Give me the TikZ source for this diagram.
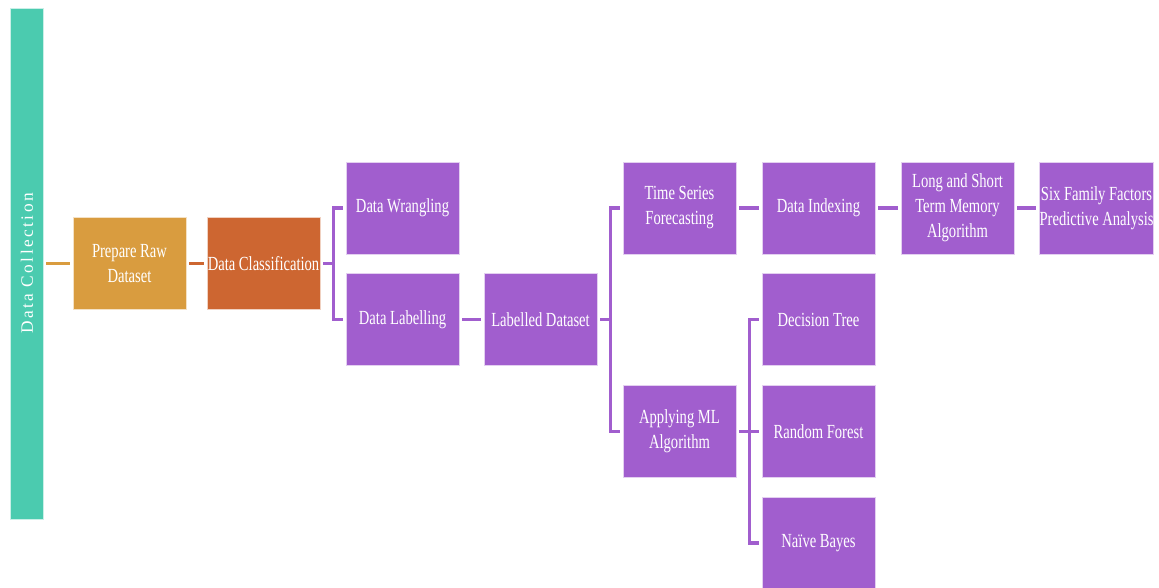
\documentclass[tikz,border=0pt]{standalone}
\usepackage{fontspec}
\setmainfont{Liberation Serif}
\newfontfamily\condfont[FakeStretch=0.73]{Liberation Serif}
\newfontfamily\spacedfont[LetterSpace=14]{Liberation Serif}
\definecolor{purp}{HTML}{A15ECE}
\definecolor{teal}{HTML}{4BCBAF}
\definecolor{gold}{HTML}{D99C3F}
\definecolor{rust}{HTML}{CD6631}
\tikzset{
  box/.style={minimum width=84.75pt, minimum height=69pt, inner sep=0pt,
    align=center, text=white, draw=white!70!#1, line width=0.6pt, fill=#1,
    font=\condfont\fontsize{15pt}{18.75pt}\selectfont},
  link/.style={line width=2.3pt, draw=#1, shorten <=2.25pt, shorten >=2.25pt},
}
\begin{document}
\begin{tikzpicture}[x=0.75pt, y=-0.75pt]
\useasboundingbox (0,0) rectangle (1159,587);
\fill[white] (0,0) rectangle (1159,587);
% side bar
\node[fill=teal, draw=white!70!teal, line width=0.6pt, minimum width=24.75pt, minimum height=383.25pt, inner sep=0pt] (bar) at (26.5,263.5) {};
\node[rotate=90, text=white, font=\spacedfont\fontsize{13pt}{15pt}\selectfont] (bartxt) at (27,263.5) {Data Collection};
% boxes
\node[box=gold] (prep) at (129.5,263.5) {Prepare Raw\\Dataset};
\node[box=rust] (class) at (263.5,263.5) {Data Classification};
\node[box=purp] (wrang) at (402.5,208) {Data Wrangling};
\node[box=purp] (label) at (402.5,319.5) {Data Labelling};
\node[box=purp] (ld) at (540.5,319.5) {Labelled Dataset};
\node[box=purp] (ts) at (679.5,208) {Time Series\\Forecasting};
\node[box=purp] (ml) at (679.5,431.5) {Applying ML\\Algorithm};
\node[box=purp] (di) at (818.5,208) {Data Indexing};
\node[box=purp] (dt) at (818.5,319.5) {Decision Tree};
\node[box=purp] (rf) at (818.5,431.5) {Random Forest};
\node[box=purp] (nb) at (818.5,543) {Naïve Bayes};
\node[box=purp] (lstm) at (957.5,208) {Long and Short\\Term Memory\\Algorithm};
\node[box=purp] (six) at (1096.5,208) {Six Family Factors\\Predictive Analysis};
% connectors
\draw[link=gold] (bar.east) -- (prep.west);
\draw[link=rust] (prep.east) -- (class.west);
\draw[link=purp, shorten >=0pt] (class.east) -- ++(13,0) coordinate (b1);
\draw[link=purp, shorten <=0pt] (b1) |- (wrang.west);
\draw[link=purp, shorten <=0pt] (b1) |- (label.west);
\draw[link=purp] (label.east) -- (ld.west);
\draw[link=purp, shorten >=0pt] (ld.east) -- ++(13,0) coordinate (b2);
\draw[link=purp, shorten <=0pt] (b2) |- (ts.west);
\draw[link=purp, shorten <=0pt] (b2) |- (ml.west);
\draw[link=purp] (ts.east) -- (di.west);
\draw[link=purp, shorten >=0pt] (ml.east) -- ++(13,0) coordinate (b3);
\draw[link=purp, shorten <=0pt] (b3) |- (dt.west);
\draw[link=purp, shorten <=0pt] (b3) |- (nb.west);
\draw[link=purp, shorten <=0pt] (b3) -- (rf.west);
\draw[link=purp] (di.east) -- (lstm.west);
\draw[link=purp] (lstm.east) -- (six.west);
\end{tikzpicture}
\end{document}
